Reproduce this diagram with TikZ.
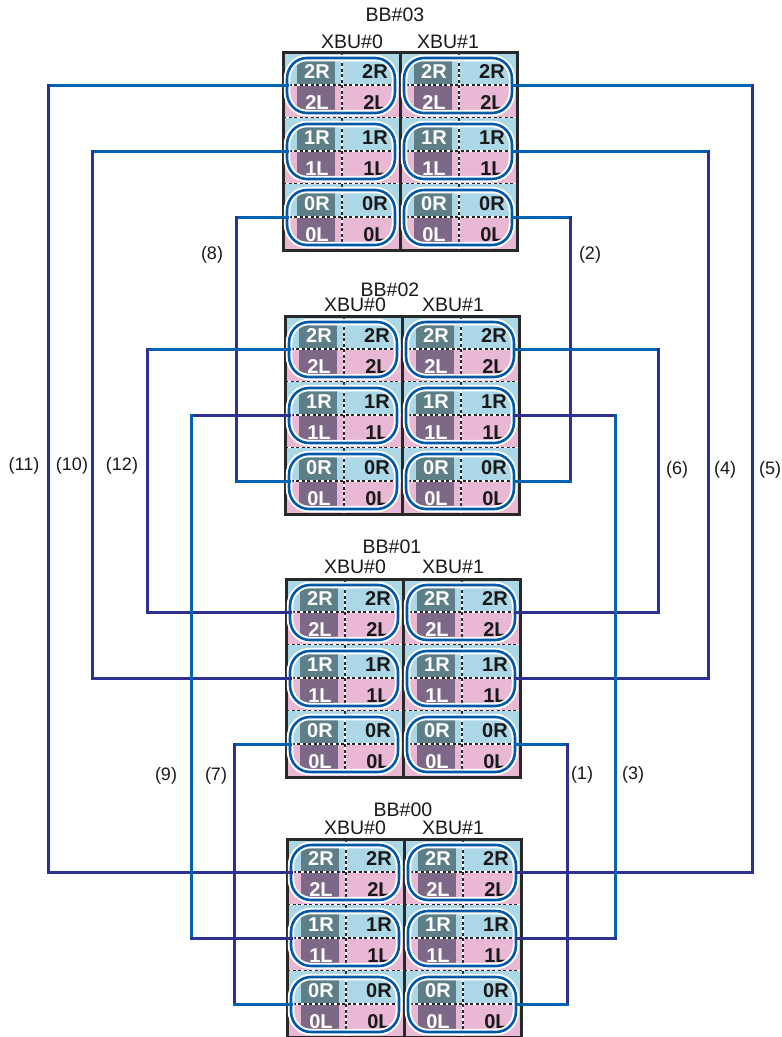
\documentclass[tikz,border=0pt]{standalone}
\usepackage{fontspec}
\setmainfont{Liberation Sans}
\definecolor{rcol}{RGB}{172,215,230}
\definecolor{lcol}{RGB}{232,184,212}
\definecolor{rdark}{RGB}{94,126,136}
\definecolor{ldark}{RGB}{126,104,136}
\definecolor{ovalblue}{RGB}{0,88,168}
\definecolor{linemed}{RGB}{0,98,176}
\definecolor{linedark}{RGB}{46,49,146}
\definecolor{bordercol}{RGB}{40,40,40}
\definecolor{txtblack}{RGB}{25,25,25}
\tikzset{
  ovalanchor/.style={rectangle, minimum width=108pt, minimum height=55pt, inner sep=0pt, outer sep=0pt},
  ovalline/.style={draw=ovalblue, line width=2.6pt, preaction={draw=white, line width=6.5pt}},
  celltxtw/.style={text=white, font=\fontsize{20}{20}\selectfont\bfseries, inner sep=0pt},
  celltxtb/.style={text=txtblack, font=\fontsize{20}{20}\selectfont\bfseries, inner sep=0pt},
  ttl/.style={text=txtblack, font=\fontsize{19.5}{19.5}\selectfont, inner sep=0pt},
  lab/.style={text=txtblack, font=\fontsize{18}{18}\selectfont, inner sep=0pt},
  dashw/.style={draw=white, line width=1.6pt},
  dashb/.style={draw=black!85, line width=1.6pt, dash pattern=on 3pt off 2.5pt},
  borderline/.style={draw=bordercol, line width=3pt},
  hb/.style={draw=linemed, line width=3pt, line cap=rect},
  hd/.style={draw=linedark, line width=3pt, line cap=rect},
  vb/.style={draw=linemed, line width=3pt, line cap=rect},
  vd/.style={draw=linedark, line width=3pt, line cap=rect},
}
\newcommand\drawBB[3]{%
  \foreach \h in {0,1}{%
    \pgfmathsetmacro\hx{#2+117*\h}%
    \foreach \r/\lb in {0/2,1/1,2/0}{%
      \pgfmathsetmacro\ry{#3+66*\r}%
      \fill[rcol] (\hx,\ry) rectangle ++(117,33);
      \fill[lcol] (\hx,\ry+33) rectangle ++(117,33);
      \fill[rdark] (\hx+14,\ry+5) rectangle (\hx+52,\ry+33);
      \fill[ldark] (\hx+14,\ry+33) rectangle (\hx+52,\ry+61);
      \draw[dashw] (\hx,\ry+33) -- ++(117,0);
      \draw[dashb] (\hx,\ry+33) -- ++(117,0);
      \draw[dashw] (\hx,\ry+66) -- ++(117,0);
      \draw[dashb] (\hx,\ry+66) -- ++(117,0);
    }
    \draw[dashw] (\hx+59,#3) -- ++(0,198);
    \draw[dashb] (\hx+59,#3) -- ++(0,198);
    \foreach \r/\lb in {0/2,1/1,2/0}{%
      \pgfmathsetmacro\ry{#3+66*\r}%
      \node[celltxtw] (#1x\h r\lb wr) at (\hx+34,\ry+20) {\lb R};
      \node[celltxtw] (#1x\h r\lb wl) at (\hx+34,\ry+51) {\lb L};
      \node[celltxtb] (#1x\h r\lb br) at (\hx+92,\ry+20) {\lb R};
      \node[celltxtb] (#1x\h r\lb bl) at (\hx+92,\ry+51) {\lb L};
    }
  }
  \draw[borderline] (#2,#3) rectangle ++(234,198);
  \draw[borderline] (#2+117,#3) -- ++(0,198);
  \foreach \h in {0,1}{%
    \pgfmathsetmacro\hx{#2+117*\h}%
    \foreach \r/\lb in {0/2,1/1,2/0}{%
      \pgfmathsetmacro\ry{#3+66*\r}%
      \pgfmathsetmacro\oxl{\hx+4}%
      \pgfmathsetmacro\oxr{\hx+112}%
      \pgfmathsetmacro\oyt{\ry+6}%
      \pgfmathsetmacro\oyb{\ry+61}%
      \pgfmathsetmacro\oym{\ry+33.5}%
      \node[ovalanchor] (#1x\h r\lb) at (\hx+58,\oym) {};
      \draw[ovalline] (\oxl+20,\oyt) -- (\oxr-20,\oyt)
        .. controls (\oxr-9,\oyt) and (\oxr,\oyt+9) .. (\oxr,\oyt+21)
        -- (\oxr,\oyb-21)
        .. controls (\oxr,\oyb-9) and (\oxr-9,\oyb) .. (\oxr-20,\oyb)
        -- (\oxl+20,\oyb)
        .. controls (\oxl+9,\oyb) and (\oxl,\oyb-9) .. (\oxl,\oyb-21)
        -- (\oxl,\oyt+21)
        .. controls (\oxl,\oyt+9) and (\oxl+9,\oyt) .. (\oxl+20,\oyt) -- cycle;
    }
  }
}
\newcommand\link[7]{%
  \draw[#5] (#1.#3) -- (#1.#3 -| #4);
  \draw[#6] (#1.#3 -| #4) -- (#2.#3 -| #4);
  \draw[#7] (#2.#3 -| #4) -- (#2.#3);
}
\begin{document}
\begin{tikzpicture}[x=1pt,y=-1pt]
\useasboundingbox (0,0) rectangle (782,1037);
\fill[white] (0,0) rectangle (782,1037);

\drawBB{bthree}{283}{52}
\drawBB{btwo}{285}{316}
\drawBB{bone}{286}{579}
\drawBB{bzero}{287}{839}

% titles
\node[ttl] (t3) at (395,15) {BB\#03};
\node[ttl] (t3a) at (352,42) {XBU\#0};
\node[ttl] (t3b) at (448,42) {XBU\#1};
\node[ttl] (t2) at (390,290) {BB\#02};
\node[ttl] (t2a) at (355,305) {XBU\#0};
\node[ttl] (t2b) at (453,305) {XBU\#1};
\node[ttl] (t1) at (392,547) {BB\#01};
\node[ttl] (t1a) at (355,567) {XBU\#0};
\node[ttl] (t1b) at (453,567) {XBU\#1};
\node[ttl] (t0) at (403,810) {BB\#00};
\node[ttl] (t0a) at (355,828) {XBU\#0};
\node[ttl] (t0b) at (453,828) {XBU\#1};

% vertical track coordinates
\coordinate (v11) at (48,0);
\coordinate (v10) at (92,0);
\coordinate (v12) at (147,0);
\coordinate (v9) at (191,0);
\coordinate (v8) at (236,0);
\coordinate (v7) at (234,0);
\coordinate (v1) at (567,0);
\coordinate (v2) at (570,0);
\coordinate (v3) at (615,0);
\coordinate (v6) at (658,0);
\coordinate (v4) at (708,0);
\coordinate (v5) at (752,0);

% left connectors
\link{bthreex0r2}{bzerox0r2}{west}{v11}{hb}{vd}{hd}
\link{bthreex0r1}{bonex0r1}{west}{v10}{hb}{vd}{hd}
\link{bthreex0r0}{btwox0r0}{west}{v8}{hb}{vd}{hb}
\link{btwox0r2}{bonex0r2}{west}{v12}{hb}{vd}{hd}
\link{btwox0r1}{bzerox0r1}{west}{v9}{hd}{vb}{hd}
\link{bonex0r0}{bzerox0r0}{west}{v7}{hb}{vd}{hb}
% right connectors
\link{bthreex1r2}{bzerox1r2}{east}{v5}{hb}{vd}{hd}
\link{bthreex1r1}{bonex1r1}{east}{v4}{hb}{vd}{hd}
\link{bthreex1r0}{btwox1r0}{east}{v2}{hb}{vd}{hb}
\link{btwox1r2}{bonex1r2}{east}{v6}{hb}{vd}{hd}
\link{btwox1r1}{bzerox1r1}{east}{v3}{hd}{vb}{hd}
\link{bonex1r0}{bzerox1r0}{east}{v1}{hb}{vd}{hb}

% labels
\node[lab] (l11) at (24,466) {(11)};
\node[lab] (l10) at (72,466) {(10)};
\node[lab] (l12) at (122,466) {(12)};
\node[lab] (l8) at (212,255) {(8)};
\node[lab] (l2) at (590,255) {(2)};
\node[lab] (l6) at (677,470) {(6)};
\node[lab] (l4) at (725,470) {(4)};
\node[lab] (l5) at (770,470) {(5)};
\node[lab] (l9) at (166,776) {(9)};
\node[lab] (l7) at (216,776) {(7)};
\node[lab] (l1) at (582,775) {(1)};
\node[lab] (l3) at (633,775) {(3)};
\end{tikzpicture}
\end{document}
